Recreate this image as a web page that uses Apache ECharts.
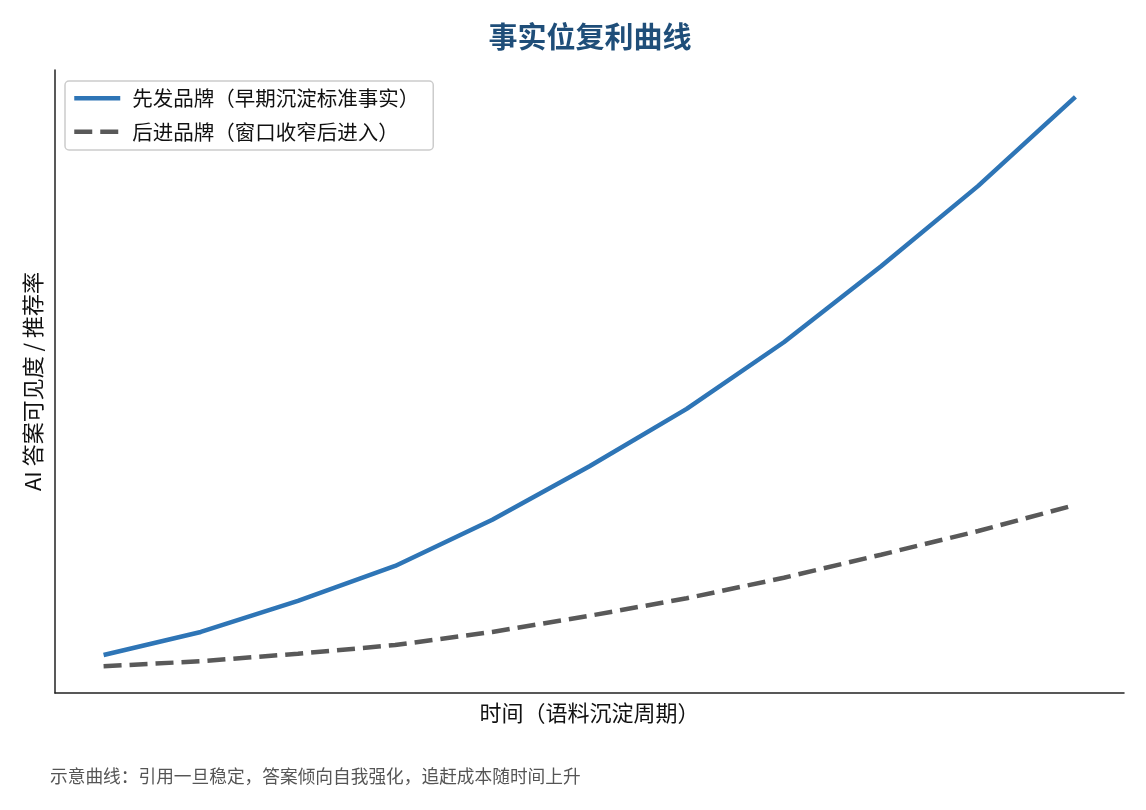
<!DOCTYPE html>
<html>
<head>
<meta charset="utf-8">
<script src="https://cdn.jsdelivr.net/npm/echarts@6/dist/echarts.min.js"></script>
<style>
  html, body { margin: 0; padding: 0; background: #fff; }
  #chart { width: 1146px; height: 810px; }
</style>
</head>
<body>
<div id="chart"></div>
<script>
const periods = [0, 1, 2, 3, 4, 5, 6, 7, 8, 9, 10];
const earlyBrand = [6.1, 9.8, 14.8, 20.4, 27.8, 36.4, 45.6, 56.3, 68.5, 81.4, 95.7];
const lateBrand = [4.3, 5.1, 6.3, 7.7, 9.8, 12.4, 15.2, 18.5, 22.2, 26.0, 30.2];

const FONT = '"Noto Sans CJK SC", "Noto Sans", sans-serif';

const chart = echarts.init(document.getElementById("chart"), null, { renderer: "canvas" });

const pairs = (ys) => periods.map((x, i) => [x, ys[i]]);

chart.setOption({
  animation: false,
  backgroundColor: "#fff",
  textStyle: { fontFamily: FONT },
  title: {
    text: "事实位复利曲线",
    left: 585,
    textAlign: "center",
    top: 17,
    textStyle: { fontSize: 29, fontWeight: "bold", color: "#1f4e79", fontFamily: FONT },
  },
  legend: {
    orient: "vertical",
    left: 65,
    top: 81,
    padding: [7, 14, 8, 7],
    itemGap: 13,
    itemWidth: 46,
    itemHeight: 14,
    borderColor: "#cccccc",
    borderWidth: 1.5,
    borderRadius: 4,
    itemStyle: { opacity: 0 },
    lineStyle: { width: 4.5 },
    textStyle: { fontSize: 20.5, color: "#111", fontFamily: FONT, padding: [0, 0, 0, 7] },
    data: ["先发品牌（早期沉淀标准事实）", "后进品牌（窗口收窄后进入）"],
  },
  grid: { left: 55, right: 22, top: 70, bottom: 117 },
  xAxis: {
    type: "value",
    min: -0.5,
    max: 10.5,
    name: "时间（语料沉淀周期）",
    nameLocation: "middle",
    nameGap: 9,
    nameTextStyle: { fontSize: 22, color: "#111", fontFamily: FONT },
    axisLine: { show: true, onZero: false, lineStyle: { color: "#222", width: 1.5 } },
    axisTick: { show: false },
    axisLabel: { show: false },
    splitLine: { show: false },
  },
  yAxis: {
    type: "value",
    min: 0,
    max: 100,
    name: "AI 答案可见度 / 推荐率",
    nameLocation: "middle",
    nameGap: 11,
    nameTextStyle: { fontSize: 22, color: "#111", fontFamily: FONT },
    axisLine: { show: true, onZero: false, lineStyle: { color: "#222", width: 1.5 } },
    axisTick: { show: false },
    axisLabel: { show: false },
    splitLine: { show: false },
  },
  series: [
    {
      name: "先发品牌（早期沉淀标准事实）",
      type: "line",
      data: pairs(earlyBrand),
      symbol: "none",
      lineStyle: { color: "#2e75b6", width: 4.5 },
      itemStyle: { color: "#2e75b6" },
    },
    {
      name: "后进品牌（窗口收窄后进入）",
      type: "line",
      data: pairs(lateBrand),
      symbol: "none",
      lineStyle: { color: "#595959", width: 4.5, type: [18, 8] },
      itemStyle: { color: "#595959" },
    },
  ],
  graphic: [
    {
      type: "text",
      left: 50,
      top: 767,
      style: {
        text: "示意曲线：引用一旦稳定，答案倾向自我强化，追赶成本随时间上升",
        fontSize: 17.7,
        fill: "#555",
        fontFamily: FONT,
      },
    },
  ],
});
</script>
</body>
</html>
